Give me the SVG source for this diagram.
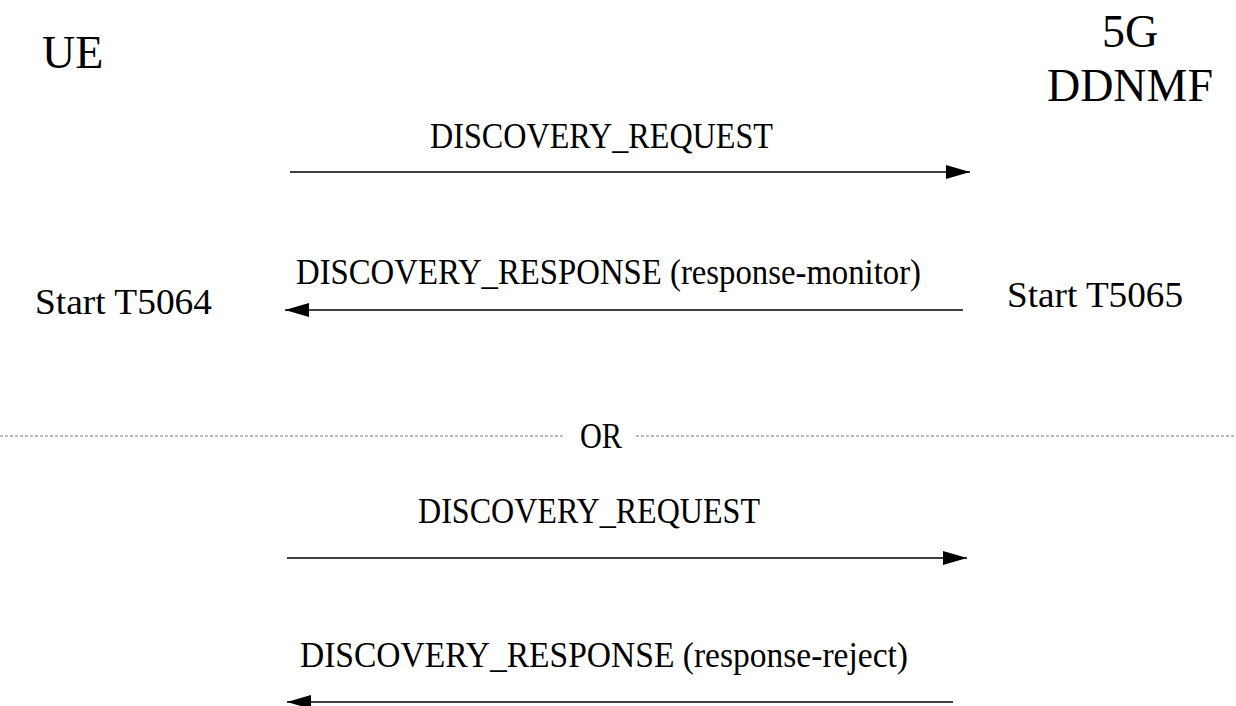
<svg xmlns="http://www.w3.org/2000/svg" width="1236" height="706" viewBox="0 0 1236 706">
<style>
.big{font-size:46px}
.lbl{font-size:36px}
.msg{stroke:#000;stroke-width:1.5;fill:none}
.sep{stroke:#777;stroke-width:1;stroke-dasharray:3 2;fill:none}
</style>
<defs>
<marker id="ah" markerWidth="24" markerHeight="14" refX="24" refY="7" orient="auto" markerUnits="userSpaceOnUse">
<path d="M0,0 L24,7 L0,14 Z" fill="#000"/>
</marker>
</defs>
<rect width="1236" height="706" fill="#fff"/>
<g id="ue"><text class="big" font-family="Liberation Serif" x="42" y="68">UE</text></g>
<g id="ddnmf"><text class="big" font-family="Liberation Serif" x="1130" y="47" text-anchor="middle">5G</text><text class="big" font-family="Liberation Serif" x="1130" y="101" text-anchor="middle">DDNMF</text></g>
<g id="t5064"><text class="lbl" font-family="Liberation Serif" x="35" y="314" textLength="177" lengthAdjust="spacingAndGlyphs">Start T5064</text></g>
<g id="t5065"><text class="lbl" font-family="Liberation Serif" x="1007" y="307" textLength="176" lengthAdjust="spacingAndGlyphs">Start T5065</text></g>
<g id="separator">
<line class="sep" x1="0" y1="436" x2="565" y2="436"/>
<text class="lbl" font-family="Liberation Serif" x="580" y="448" textLength="42" lengthAdjust="spacingAndGlyphs">OR</text>
<line class="sep" x1="636" y1="436" x2="1236" y2="436"/>
</g>
<g id="connectors">
<line class="msg" x1="290" y1="172" x2="970" y2="172" marker-end="url(#ah)"/>
<text class="lbl" font-family="Liberation Serif" x="430" y="148" textLength="343" lengthAdjust="spacingAndGlyphs">DISCOVERY_REQUEST</text>
<line class="msg" x1="963" y1="310" x2="285" y2="310" marker-end="url(#ah)"/>
<text class="lbl" font-family="Liberation Serif" x="296" y="284" textLength="625" lengthAdjust="spacingAndGlyphs">DISCOVERY_RESPONSE (response-monitor)</text>
<line class="msg" x1="287" y1="558" x2="967" y2="558" marker-end="url(#ah)"/>
<text class="lbl" font-family="Liberation Serif" x="418" y="523" textLength="342" lengthAdjust="spacingAndGlyphs">DISCOVERY_REQUEST</text>
<line class="msg" x1="953" y1="702" x2="287" y2="702" marker-end="url(#ah)"/>
<text class="lbl" font-family="Liberation Serif" x="300" y="667" textLength="608" lengthAdjust="spacingAndGlyphs">DISCOVERY_RESPONSE (response-reject)</text>
</g>
</svg>
